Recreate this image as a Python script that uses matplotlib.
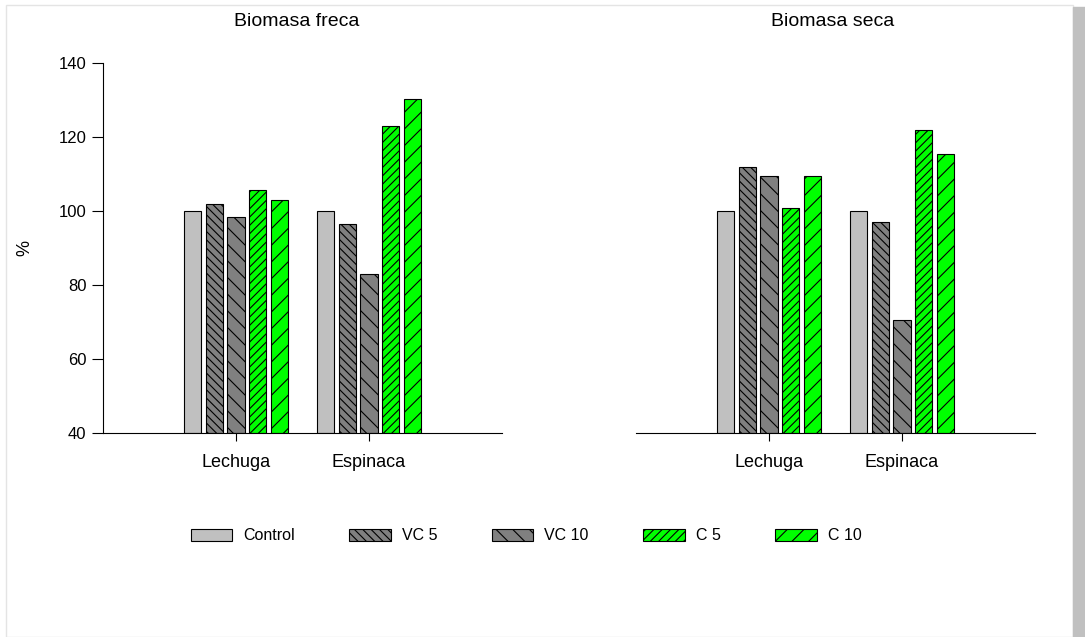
import matplotlib
matplotlib.use('Agg')
import matplotlib.pyplot as plt
from matplotlib.patches import Rectangle
import numpy as np

plt.rcParams['font.family'] = ['Liberation Sans', 'DejaVu Sans']
plt.rcParams['hatch.linewidth'] = 0.8

cultivos = ['Lechuga', 'Espinaca']
tratamientos = ['Control', 'VC 5', 'VC 10', 'C 5', 'C 10']
fresca = [[100, 101.8, 98.5, 105.6, 102.9],
          [100, 96.4, 83.0, 122.9, 130.2]]
seca = [[100, 111.8, 109.5, 100.9, 109.4],
        [100, 96.9, 70.5, 121.8, 115.3]]
titulos = ['Biomasa freca', 'Biomasa seca']

colores = ['#c0c0c0', '#808080', '#808080', '#00ff00', '#00ff00']
tramas = ['', '\\\\\\\\', '\\\\', '////', '//']

fig = plt.figure(figsize=(10.85, 6.37), dpi=100)
W, H = 1085, 637

def px(x0, y0, x1, y1):
    return [x0 / W, 1 - y1 / H, (x1 - x0) / W, (y1 - y0) / H]

# marco gris claro y franja gris a la derecha
fig.patches.append(Rectangle((6 / W, 0), 1067 / W, 1 - 5 / H, transform=fig.transFigure,
                             facecolor='white', edgecolor='#e4e4e4', linewidth=1, zorder=-2))
fig.patches.append(Rectangle((1073 / W, 0), 12 / W, 1 - 7 / H,
                             transform=fig.transFigure, color='#c0c0c0', zorder=-1))

ax1 = fig.add_axes(px(103, 63, 502, 433))
ax2 = fig.add_axes(px(636, 63, 1035, 433))

paso = 0.164
ancho = 0.13
x = np.arange(1, len(cultivos) + 1)
barras = []
for ax, datos in zip([ax1, ax2], [fresca, seca]):
    ax.patch.set_alpha(0)
    for j, trat in enumerate(tratamientos):
        vals = [datos[i][j] for i in range(len(cultivos))]
        b = ax.bar(x + (j - 2) * paso, np.array(vals) - 40, bottom=40, width=ancho,
                   color=colores[j], hatch=tramas[j], edgecolor='black',
                   linewidth=0.8, label=trat)
        if ax is ax1:
            barras.append(b)
    ax.set_xlim(0, 3)
    ax.set_ylim(40, 140)
    ax.set_xticks(x)
    ax.set_xticklabels(cultivos, fontsize=13)
    for s in ['top', 'right']:
        ax.spines[s].set_visible(False)
    ax.tick_params(axis='x', length=6, width=0.8, pad=9)
    ax.tick_params(axis='y', length=8, width=0.8, labelsize=12, pad=4)

ax1.set_yticks([40, 60, 80, 100, 120, 140])
ax1.set_ylabel('%', fontsize=13)
ax1.yaxis.set_label_coords(-70 / 399, 0.5)
ax2.spines['left'].set_visible(False)
ax2.set_yticks([])

fig.text(297 / W, 1 - 22 / H, titulos[0], ha='center', va='center', fontsize=14)
fig.text(833 / W, 1 - 22 / H, titulos[1], ha='center', va='center', fontsize=14)

fig.legend(handles=barras, labels=tratamientos, loc='center',
           bbox_to_anchor=(526 / W, 1 - 536 / H), ncol=5, frameon=False,
           fontsize=11.5, handlelength=2.6, handleheight=0.7, columnspacing=3.4,
           handletextpad=0.7)

fig.savefig('out.png', dpi=100)
